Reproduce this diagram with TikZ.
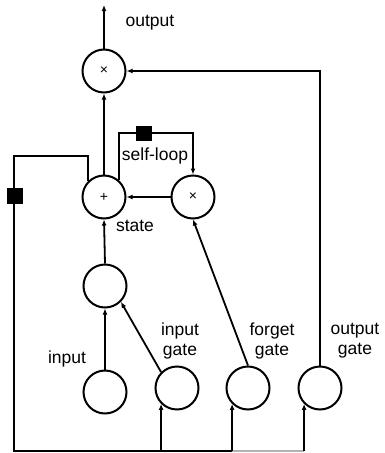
\documentclass[tikz,border=0pt]{standalone}
\usepackage{fontspec}
\setmainfont{Liberation Sans}
\usetikzlibrary{arrows.meta}
\begin{document}
\begin{tikzpicture}[x=1pt,y=-1pt,
  unit/.style={circle,draw,line width=2pt,minimum size=43pt,inner sep=0pt,font=\fontsize{14}{14}\selectfont},
  wire/.style={line width=1.8pt},
  flow/.style={wire,-{Latex[length=6pt,width=5pt]}},
  gatebox/.style={fill=black,minimum width=16pt,minimum height=15pt,inner sep=0pt},
  lbl/.style={font=\fontsize{17.5}{20}\selectfont,align=center,inner sep=0pt}]
\useasboundingbox (0,0) rectangle (384,453);

% cells
\node[unit] (mo) at (104,71) {×};
\node[unit] (st) at (104,197) {+};
\node[unit] (sl) at (193,197) {×};
\node[unit] (mid) at (105,286) {};
\node[unit] (in) at (105,392) {};
\node[unit] (ig) at (177,388) {};
\node[unit] (fg) at (248,388) {};
\node[unit] (og) at (320,388) {};

\coordinate (top) at (104,5);
\coordinate (bl) at (14,451);

% main path
\draw[flow] (mo.north) -- (top);
\draw[flow] (st.north) -- (mo.south);
\draw[flow] (sl.west) -- (st.east);
\draw[flow] (mid.north) -- (st.south);
\draw[flow] (in.north) -- (mid.south);
\draw[flow] (ig.north west) -- (mid.south east);
\draw[flow] (fg.north) -- (sl.south);
\draw[flow] (og.north) |- (mo.east);

% self-loop with delay
\draw[flow] (st.48) |- (144,133) -| (sl.north);
\node[gatebox] (d1) at (144,133) {};

% recurrent feedback to the gates
\draw[wire] (st.135) |- (bl |- 0,156) -- (bl) -- (fg.south west |- bl);
\draw[wire,gray!60] (fg.south west |- bl) -- (og.south west |- bl);
\node[gatebox,minimum height=16pt] (d2) at (15,196) {};
\draw[flow] (ig.south west |- bl) -- (ig.south west);
\draw[flow] (fg.south west |- bl) -- (fg.south west);
\draw[flow] (og.south west |- bl) -- (og.south west);

% labels
\node[lbl] (l1) at (150,23) {output};
\node[lbl] (l2) at (155,156) {self-loop};
\node[lbl] (l3) at (135,226) {state};
\node[lbl] (l4) at (67,359) {input};
\node[lbl] (l5) at (180,341) {input\\gate};
\node[lbl] (l6) at (272,341) {forget\\gate};
\node[lbl] (l7) at (355,341) {output\\gate};
\end{tikzpicture}
\end{document}
